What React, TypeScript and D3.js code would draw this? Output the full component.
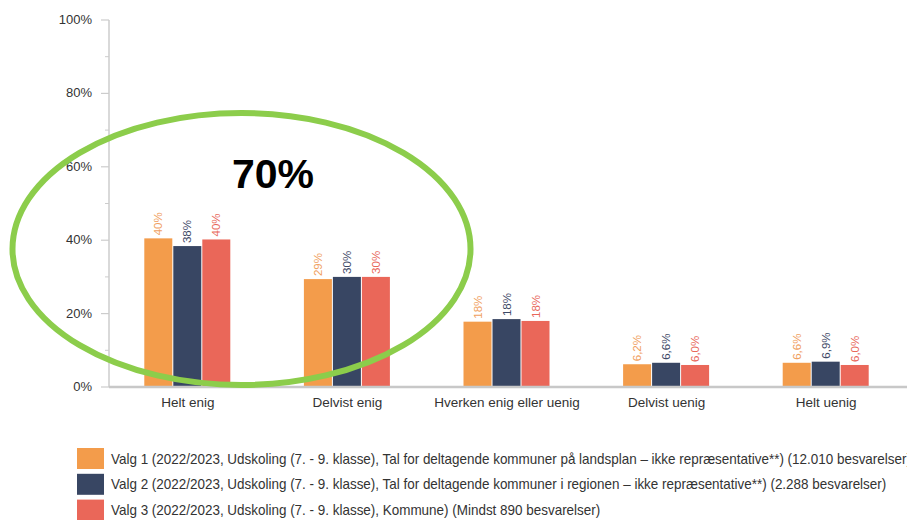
import React, { useEffect, useRef, useState } from "react";
import * as d3 from "d3";

const categories = ["Helt enig", "Delvist enig", "Hverken enig eller uenig", "Delvist uenig", "Helt uenig"];
const seriesNames = [
  "Valg 1 (2022/2023, Udskoling (7. - 9. klasse), Tal for deltagende kommuner på landsplan – ikke repræsentative**) (12.010 besvarelser)",
  "Valg 2 (2022/2023, Udskoling (7. - 9. klasse), Tal for deltagende kommuner i regionen – ikke repræsentative**) (2.288 besvarelser)",
  "Valg 3 (2022/2023, Udskoling (7. - 9. klasse), Kommune) (Mindst 890 besvarelser)",
];
const valg1 = [40.5, 29.4, 17.8, 6.2, 6.6];
const valg2 = [38.4, 30.0, 18.5, 6.6, 6.9];
const valg3 = [40.2, 30.0, 18.0, 6.0, 6.0];
const labels1 = ["40%", "29%", "18%", "6,2%", "6,6%"];
const labels2 = ["38%", "30%", "18%", "6,6%", "6,9%"];
const labels3 = ["40%", "30%", "18%", "6,0%", "6,0%"];
const yTicks = [0, 20, 40, 60, 80, 100];
const yMinorTicks = [10, 30, 50, 70, 90];
const highlightText = "70%";

const barColors = ["#F39C4B", "#384663", "#EA6759"];
const labelColors = ["#F0A060", "#3E4966", "#E8675A"];
const FONT = "'Liberation Sans', Arial, sans-serif";

export default function App() {
  const W = 907, H = 520;
  const x = d3.scaleBand().domain(categories).range([108, 906]).padding(0);
  const inner = d3.scaleBand().domain(["0", "1", "2"]).range([0, 87]).padding(0);
  const y = d3.scaleLinear().domain([0, 100]).range([387, 20]);
  const series = [valg1, valg2, valg3];
  const seriesLabels = [labels1, labels2, labels3];
  const legendRef = useRef<SVGGElement>(null);
  const [sx, setSx] = useState(1);

  useEffect(() => {
    const g = legendRef.current;
    if (!g) return;
    const t = g.querySelectorAll("text")[1] as SVGTextElement;
    if (t) {
      const len = t.getComputedTextLength();
      if (len > 0) setSx(776 / len);
    }
  }, []);

  return (
    <svg width={W} height={H} style={{ position: "absolute", left: 0, top: 0, background: "#fff" }} fontFamily={FONT}>
      {/* y axis */}
      <line x1={109} x2={109} y1={y(100)} y2={y(0)} stroke="#cccccc" strokeWidth={1.5} />
      {yTicks.map((t) => (
        <g key={"t" + t}>
          <line x1={101} x2={109} y1={y(t)} y2={y(t)} stroke="#cccccc" strokeWidth={1.2} />
          <text x={92} y={y(t)} dy="0.3em" textAnchor="end" fontSize={13} fill="#333">{t + "%"}</text>
        </g>
      ))}
      {yMinorTicks.map((t) => (
        <line key={"m" + t} x1={105} x2={109} y1={y(t)} y2={y(t)} stroke="#cccccc" strokeWidth={1} />
      ))}
      {/* bars */}
      {categories.map((c, i) => {
        const cx = (x(c) as number) + x.bandwidth() / 2;
        const gx = cx - 43.5;
        return (
          <g key={c}>
            {series.map((s, k) => {
              const bx = gx + (inner(String(k)) as number);
              const bw = inner.bandwidth() - 1;
              return (
                <g key={k}>
                  <rect x={bx} y={y(s[i])} width={bw} height={y(0) - y(s[i])} fill={barColors[k]} />
                  <text
                    transform={`translate(${bx + bw / 2 + 4},${y(s[i]) - 3}) rotate(-90)`}
                    fontSize={11.5}
                    fill={labelColors[k]}
                  >
                    {seriesLabels[k][i]}
                  </text>
                </g>
              );
            })}
            <text x={cx} y={407} textAnchor="middle" fontSize={13.5} fill="#333">{c}</text>
          </g>
        );
      })}
      {/* baseline */}
      <line x1={109} x2={907} y1={y(0)} y2={y(0)} stroke="#c8c8c8" strokeWidth={2.5} />
      {/* highlight */}
      <ellipse cx={241.5} cy={249} rx={229} ry={136} fill="none" stroke="#8CCD4B" strokeWidth={6} />
      <text x={273} y={188} textAnchor="middle" fontSize={41} fontWeight="bold" fill="#000">{highlightText}</text>
      {/* legend */}
      <g ref={legendRef}>
        {seriesNames.map((n, k) => (
          <g key={n} transform={`translate(0,${458.5 + k * 25.8})`}>
            <rect x={77} y={-10.5} width={27} height={21} fill={barColors[k]} />
            <text x={111} y={5} fontSize={14} fill="#333" transform={`translate(111,0) scale(${sx},1) translate(-111,0)`}>{n}</text>
          </g>
        ))}
      </g>
    </svg>
  );
}
